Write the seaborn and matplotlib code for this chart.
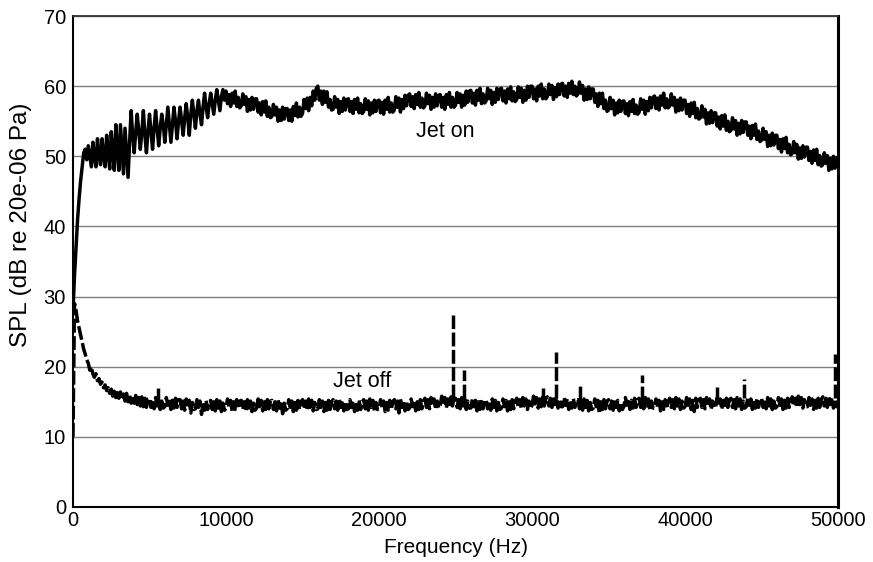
#!/usr/bin/env python3
"""
Plot SPL spectra (jet on / jet off) against frequency.
Values read off the reference picture at 100 Hz spacing (one row = 1 kHz).
"""

import numpy as np
import pandas as pd
import matplotlib
matplotlib.use("Agg")
import matplotlib.pyplot as plt
import seaborn as sns


# === Data ===
FREQ_STEP = 100
FREQ_MAX = 50000

# Jet on, SPL (dB), 0 .. 50000 Hz every 100 Hz
jet_on_spl = [
    28, 33, 37, 41, 44, 46.5, 48.5, 50.5, 51, 49.5,                      # 0k
    51.5, 50, 48.5, 52, 50, 48.5, 52.5, 50.2, 48.8, 52.5,                # 1k
    50, 48.5, 53, 50.5, 48.2, 53.5, 50.5, 48, 54.5, 51,                  # 2k
    48, 54.5, 51, 47.5, 54, 50.5, 47, 52, 56.5, 53,                      # 3k
    50.5, 53.5, 56, 53.5, 51, 53.5, 56.5, 53, 50.5, 53.5,                # 4k
    56, 53.5, 51, 54, 56.5, 54, 51.5, 54, 56, 54.5,                      # 5k
    52, 54.5, 57, 54.5, 52, 54.5, 57, 55, 52.5, 55,                      # 6k
    57, 55, 53, 55.5, 57.5, 55.5, 53, 56, 58, 56,                        # 7k
    54, 56.5, 58, 56, 54.5, 57, 59, 57, 55.5, 57.5,                      # 8k
    59, 57.5, 56, 58, 59.5, 58, 56.5, 58.5, 59.5, 58,                    # 9k
    59.3, 57.5, 58.8, 57.1, 59.0, 57.6, 59.3, 57.1, 58.4, 56.9,          # 10k
    57.2, 58.9, 57.4, 58.5, 56.4, 58.1, 56.6, 58.4, 56.7, 58.2,          # 11k
    58.2, 56.3, 57.6, 55.9, 57.8, 56.3, 57.9, 55.7, 57.0, 55.5,          # 12k
    55.7, 57.4, 55.9, 57.0, 55.0, 56.6, 55.1, 57.0, 55.3, 56.8,          # 13k
    56.8, 55.1, 56.6, 55.0, 57.1, 55.8, 57.6, 55.6, 57.0, 55.7,          # 14k
    56.1, 58.1, 56.8, 58.3, 56.5, 58.4, 57.2, 59.3, 58.0, 59.7,          # 15k
    60.0, 58.0, 59.3, 57.4, 59.3, 57.7, 59.2, 57.0, 58.1, 56.6,          # 16k
    56.7, 58.5, 57.0, 58.1, 56.1, 57.8, 56.4, 58.3, 56.6, 58.1,          # 17k
    58.2, 56.4, 57.8, 56.1, 58.1, 56.7, 58.3, 56.2, 57.5, 56.1,          # 18k
    56.4, 58.2, 56.7, 57.9, 55.9, 57.6, 56.2, 58.0, 56.4, 57.9,          # 19k
    58.0, 56.2, 57.7, 56.0, 58.0, 56.7, 58.4, 56.3, 57.6, 56.3,          # 20k
    56.6, 58.5, 57.0, 58.3, 56.3, 58.1, 56.8, 58.7, 57.2, 58.7,          # 21k
    58.9, 57.1, 58.5, 56.8, 58.8, 57.4, 59.1, 57.0, 58.3, 56.9,          # 22k
    57.2, 59.0, 57.5, 58.7, 56.7, 58.4, 57.0, 58.9, 57.2, 58.7,          # 23k
    58.8, 57.0, 58.4, 56.7, 58.8, 57.4, 59.1, 57.0, 58.4, 57.0,          # 24k
    57.3, 59.1, 57.7, 58.9, 57.0, 58.7, 57.3, 59.3, 57.7, 59.3,          # 25k
    59.4, 57.6, 59.0, 57.3, 59.4, 58.0, 59.7, 57.5, 58.9, 57.6,          # 26k
    57.9, 59.7, 58.2, 59.4, 57.4, 59.1, 57.7, 59.7, 58.1, 59.6,          # 27k
    59.7, 57.9, 59.3, 57.6, 59.6, 58.2, 59.9, 57.9, 59.2, 57.8,          # 28k
    58.1, 59.9, 58.4, 59.7, 57.7, 59.4, 58.0, 60.0, 58.4, 60.0,          # 29k
    60.0, 58.2, 59.6, 57.9, 60.0, 58.6, 60.3, 58.2, 59.6, 58.2,          # 30k
    58.5, 60.3, 58.8, 60.1, 58.1, 59.8, 58.5, 60.3, 58.8, 60.3,          # 31k
    60.4, 58.6, 60.0, 58.4, 60.4, 59.0, 60.7, 58.8, 60.0, 58.6,          # 32k
    58.9, 60.6, 59.0, 60.1, 58.0, 59.6, 58.1, 59.9, 58.2, 59.6,          # 33k
    59.6, 57.7, 58.9, 57.1, 59.0, 57.5, 59.0, 56.8, 58.0, 56.4,          # 34k
    56.6, 58.4, 56.8, 58.0, 55.9, 57.6, 56.2, 58.0, 56.4, 57.8,          # 35k
    57.9, 56.1, 57.5, 55.8, 57.8, 56.4, 58.1, 56.1, 57.3, 56.0,          # 36k
    56.3, 58.2, 56.7, 58.0, 56.0, 57.8, 56.5, 58.4, 56.9, 58.4,          # 37k
    58.6, 56.8, 58.3, 56.6, 58.6, 57.3, 59.0, 56.9, 58.2, 56.9,          # 38k
    57.2, 58.9, 57.3, 58.4, 56.3, 58.0, 56.5, 58.3, 56.6, 58.0,          # 39k
    58.0, 56.1, 57.4, 55.7, 57.6, 56.1, 57.7, 55.5, 56.8, 55.3,          # 40k
    55.5, 57.2, 55.6, 56.7, 54.6, 56.2, 54.7, 56.5, 54.8, 56.2,          # 41k
    56.2, 54.3, 55.6, 53.9, 55.8, 54.3, 55.9, 53.7, 55.0, 53.5,          # 42k
    53.7, 55.5, 53.9, 55.1, 53.0, 54.7, 53.2, 55.1, 53.4, 54.9,          # 43k
    54.9, 53.0, 54.3, 52.5, 54.4, 53.0, 54.6, 52.4, 53.6, 52.1,          # 44k
    52.3, 54.0, 52.4, 53.5, 51.4, 53.0, 51.5, 53.3, 51.6, 53.0,          # 45k
    53.0, 51.1, 52.4, 50.6, 52.5, 51.1, 52.7, 50.5, 51.7, 50.2,          # 46k
    50.4, 52.1, 50.5, 51.7, 49.6, 51.2, 49.7, 51.5, 49.9, 51.3,          # 47k
    51.3, 49.4, 50.7, 49.0, 50.9, 49.4, 51.0, 48.8, 50.1, 48.6,          # 48k
    48.8, 50.5, 49.0, 50.1, 48.0, 49.7, 48.2, 50.0, 48.3, 49.8,          # 49k
    48.6,                                                                # 50k
]

# Jet off, SPL (dB), 0 .. 50000 Hz every 100 Hz
jet_off_spl = [
    10, 29, 28, 26.5, 25.5, 24.5, 23.5, 22.5, 21.8, 21,                  # 0k
    20.5, 19.5, 20, 19, 18.5, 19, 18, 18.3, 17.5, 17.8,                  # 1k
    17, 17.4, 16.6, 17, 16.2, 16.8, 15.8, 16.5, 15.6, 16.3,              # 2k
    15.5, 16.4, 15.3, 16.1, 15.1, 16.2, 15.0, 15.9, 14.8, 15.8,          # 3k
    14.8, 15.9, 14.6, 15.6, 14.4, 15.7, 14.3, 15.5, 14.2, 15.4,          # 4k
    15.5, 14.2, 15.3, 14.0, 15.6, 14.4, 15.4, 13.9, 15.1, 14.1,          # 5k
    14.3, 15.6, 14.5, 15.4, 13.9, 15.2, 14.1, 15.5, 14.2, 15.3,          # 6k
    15.3, 14.0, 15.1, 13.8, 15.4, 14.2, 15.2, 13.4, 14.9, 13.9,          # 7k
    14.0, 15.3, 14.2, 15.1, 13.2, 14.9, 13.8, 15.2, 13.9, 15.0,          # 8k
    15.2, 13.9, 15.0, 13.7, 15.3, 14.1, 15.1, 13.6, 14.8, 13.8,          # 9k
    14.1, 15.4, 14.3, 15.2, 13.7, 15.0, 13.9, 15.3, 14.0, 15.1,          # 10k
    15.2, 13.9, 15.0, 13.7, 15.3, 14.1, 15.1, 13.6, 14.8, 13.8,          # 11k
    14.1, 15.4, 14.3, 15.2, 13.7, 15.0, 13.9, 15.3, 14.0, 15.1,          # 12k
    15.2, 13.9, 15.0, 13.7, 15.3, 14.1, 15.1, 13.3, 14.8, 13.8,          # 13k
    14.0, 15.3, 14.2, 15.1, 13.6, 14.9, 13.8, 15.2, 13.9, 15.0,          # 14k
    15.3, 14.0, 15.1, 13.8, 15.4, 14.2, 15.2, 13.7, 14.9, 13.9,          # 15k
    14.0, 15.3, 14.2, 15.1, 13.6, 14.9, 13.8, 15.2, 13.9, 15.0,          # 16k
    15.3, 14.0, 15.1, 13.8, 15.4, 14.2, 15.2, 13.7, 14.9, 13.9,          # 17k
    14.0, 15.3, 14.2, 15.1, 13.6, 14.9, 13.8, 15.2, 13.9, 15.0,          # 18k
    15.3, 14.0, 15.1, 13.8, 15.4, 14.2, 15.2, 13.7, 14.9, 13.9,          # 19k
    14.0, 15.3, 14.2, 15.1, 13.6, 14.9, 13.8, 15.2, 13.9, 15.0,          # 20k
    15.3, 14.0, 15.1, 13.4, 15.4, 14.2, 15.2, 13.7, 14.9, 13.9,          # 21k
    14.1, 15.4, 14.3, 15.2, 13.7, 15.0, 13.9, 15.3, 14.0, 15.1,          # 22k
    15.5, 14.2, 15.3, 14.0, 15.6, 14.4, 15.4, 13.9, 15.1, 14.1,          # 23k
    14.5, 15.8, 14.7, 15.6, 14.1, 15.4, 14.3, 15.7, 14.4, 15.5,          # 24k
    15.5, 14.2, 15.3, 14.0, 15.6, 14.4, 15.4, 13.9, 15.1, 14.1,          # 25k
    14.1, 15.4, 14.3, 15.2, 13.7, 15.0, 13.9, 15.3, 14.0, 15.1,          # 26k
    15.3, 14.0, 15.1, 13.8, 15.4, 14.2, 15.2, 13.7, 14.9, 13.9,          # 27k
    14.1, 15.4, 14.3, 15.2, 13.7, 15.0, 13.9, 15.3, 14.0, 15.1,          # 28k
    15.5, 14.2, 15.3, 14.0, 15.6, 14.4, 15.4, 13.9, 15.1, 14.1,          # 29k
    14.5, 15.8, 14.7, 15.6, 14.1, 15.4, 14.3, 15.7, 14.4, 15.5,          # 30k
    15.7, 14.4, 15.5, 14.2, 15.8, 14.6, 15.6, 14.1, 15.3, 14.3,          # 31k
    14.3, 15.6, 14.5, 15.4, 13.9, 15.2, 14.1, 15.5, 14.2, 15.3,          # 32k
    15.3, 14.0, 15.1, 13.8, 15.4, 14.2, 15.2, 13.7, 14.9, 13.9,          # 33k
    14.1, 15.4, 14.3, 15.2, 13.3, 15.0, 13.9, 15.3, 14.0, 15.1,          # 34k
    15.3, 14.0, 15.1, 13.8, 15.4, 14.2, 15.2, 13.7, 14.9, 13.9,          # 35k
    14.3, 15.6, 14.5, 15.4, 13.9, 15.2, 14.1, 15.5, 14.2, 15.3,          # 36k
    15.5, 14.2, 15.3, 14.0, 15.6, 14.4, 15.4, 13.9, 15.1, 14.1,          # 37k
    14.1, 15.4, 14.3, 15.2, 13.7, 15.0, 13.9, 15.3, 14.0, 15.1,          # 38k
    15.5, 14.2, 15.3, 14.0, 15.6, 14.4, 15.4, 13.9, 15.1, 14.1,          # 39k
    14.3, 15.6, 14.5, 15.4, 13.9, 15.2, 13.6, 15.5, 14.2, 15.3,          # 40k
    15.5, 14.2, 15.3, 14.0, 15.6, 14.4, 15.4, 13.9, 15.1, 14.1,          # 41k
    14.3, 15.6, 14.5, 15.4, 13.9, 15.2, 14.1, 15.5, 14.2, 15.3,          # 42k
    15.5, 14.2, 15.3, 14.0, 15.6, 14.4, 15.4, 13.9, 15.1, 14.1,          # 43k
    14.3, 15.6, 14.5, 15.4, 13.9, 15.2, 14.1, 15.5, 14.2, 15.3,          # 44k
    15.5, 14.2, 15.3, 14.0, 15.6, 14.4, 15.4, 13.9, 15.1, 14.1,          # 45k
    14.3, 15.6, 14.5, 15.4, 13.9, 15.2, 14.1, 15.5, 14.2, 15.3,          # 46k
    15.7, 14.4, 15.5, 14.2, 15.8, 14.6, 15.6, 14.1, 15.3, 14.3,          # 47k
    14.3, 15.6, 14.5, 15.4, 13.9, 15.2, 14.1, 15.5, 14.2, 15.3,          # 48k
    15.7, 14.4, 15.5, 14.2, 15.8, 14.6, 15.6, 14.1, 15.3, 14.3,          # 49k
    15.0,                                                                # 50k
]

# Narrow tones in the jet-off spectrum
spike_freq = [5550, 24850, 25550, 30700, 31550, 33150, 37200, 42100, 43850, 49800]
spike_base = [15.0, 15.5, 15.5, 15.5, 15.5, 15.3, 15.3, 15.5, 15.5, 15.6]
spike_top = [17.4, 27.4, 19.5, 16.9, 22.1, 17.4, 18.8, 17.1, 18.3, 21.8]

# Curve labels
label_text = ["Jet on", "Jet off"]
label_freq = [24300, 18900]
label_spl = [53.6, 17.9]

y_ticks = [0, 10, 20, 30, 40, 50, 60, 70]
x_ticks = [0, 10000, 20000, 30000, 40000, 50000]


def main():
    freq = np.arange(0, FREQ_MAX + 1, FREQ_STEP)
    assert len(freq) == len(jet_on_spl) == len(jet_off_spl)
    df_on = pd.DataFrame({"Frequency": freq, "SPL": jet_on_spl})
    df_off = pd.DataFrame({"Frequency": freq, "SPL": jet_off_spl})

    # Style
    sns.set_theme(style="white")
    plt.rcParams["font.family"] = ["Liberation Sans", "DejaVu Sans"]
    plt.rcParams["text.color"] = "black"
    plt.rcParams["axes.labelcolor"] = "black"

    fig = plt.figure(figsize=(8.73, 5.62), dpi=100)
    ax = fig.add_axes([0.0836, 0.0979, 0.8764, 0.8736])

    lw = 2.5
    dash = (0, (4, 1))
    sns.lineplot(data=df_off, x="Frequency", y="SPL", ax=ax, color="black",
                 linewidth=lw, linestyle=dash)
    ax.vlines(spike_freq, spike_base, spike_top, colors="black",
              linewidth=lw, linestyles=[dash])
    sns.lineplot(data=df_on, x="Frequency", y="SPL", ax=ax, color="black",
                 linewidth=lw)

    for txt, fx, fy in zip(label_text, label_freq, label_spl):
        ax.text(fx, fy, txt, fontsize=15.5, ha="center", va="center",
                color="black")

    ax.set_xlim(0, FREQ_MAX)
    ax.set_ylim(0, 70)
    ax.set_xticks(x_ticks)
    ax.set_yticks(y_ticks)
    ax.tick_params(axis="both", length=0, labelsize=14.5, colors="black")
    ax.tick_params(axis="x", pad=3)
    ax.tick_params(axis="y", pad=5)

    ax.yaxis.grid(True, color="#7f7f7f", linewidth=1)
    ax.xaxis.grid(False)
    ax.set_axisbelow(True)

    for side in ["left", "bottom"]:
        ax.spines[side].set_color("black")
        ax.spines[side].set_linewidth(1.5)
    ax.spines["right"].set_color("black")
    ax.spines["right"].set_linewidth(2.2)
    ax.spines["top"].set_color("#333333")
    ax.spines["top"].set_linewidth(1.3)

    ax.set_xlabel("Frequency (Hz)", fontsize=15, labelpad=6)
    ax.set_ylabel("SPL (dB re 20e-06 Pa)", fontsize=17.5)
    ax.yaxis.set_label_coords(-0.054, 0.574)

    fig.savefig("out.png", dpi=100)
    plt.close(fig)


if __name__ == "__main__":
    main()
